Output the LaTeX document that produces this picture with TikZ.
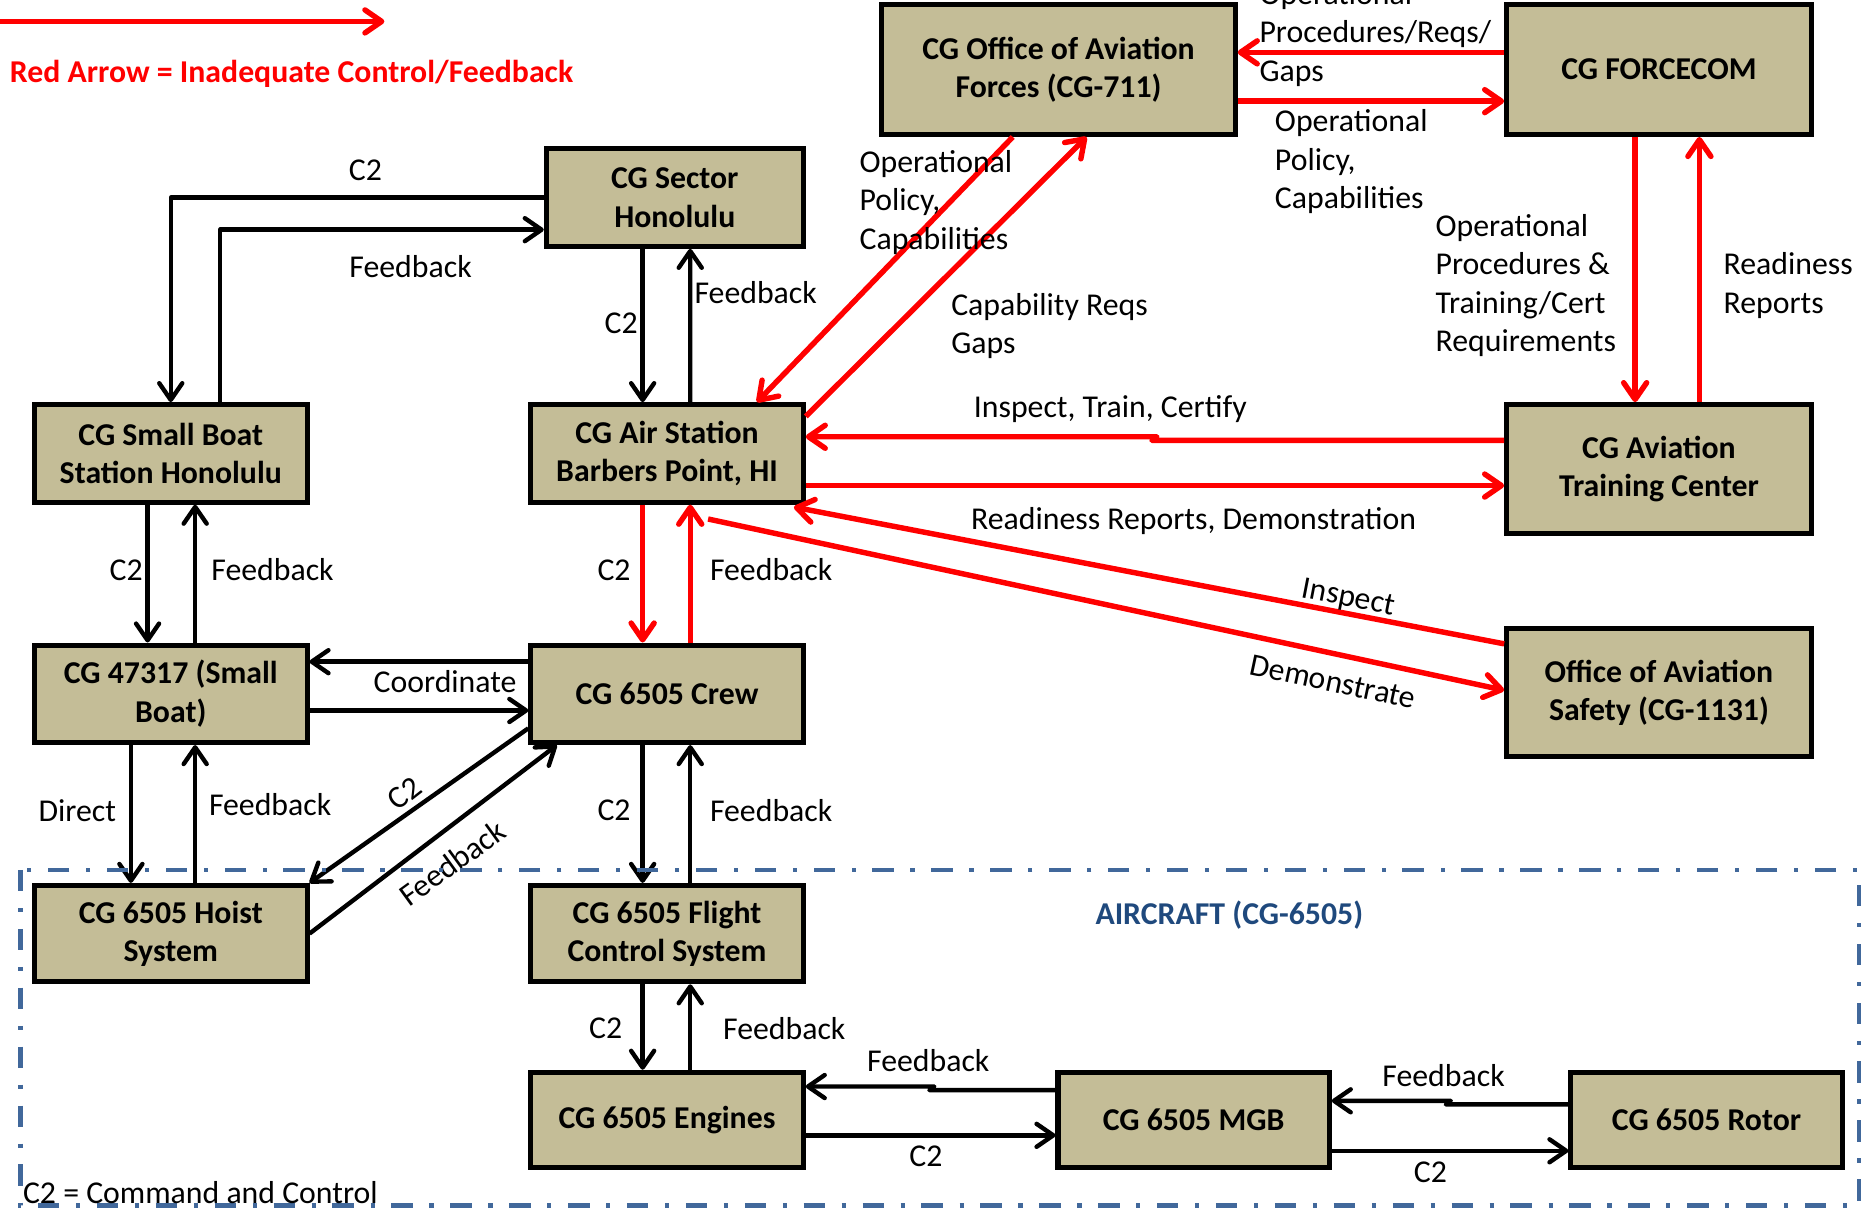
\documentclass[tikz,border=0pt]{standalone}
\usepackage{fontspec}
\setmainfont{Carlito}
\usetikzlibrary{arrows.meta, calc}
\definecolor{box-tan}{HTML}{C4BD97}
\definecolor{frame-blue}{HTML}{41689B}
\definecolor{title-blue}{HTML}{1F497D}
\definecolor{warn-red}{HTML}{FF0000}
\newcommand{\drawBox}[6]{
	\node[box, minimum width=#4cm, minimum height=#5cm] (#1) at (#2,#3) {#6};
}

\begin{document}
\begin{tikzpicture}[x=0.02cm, y=-0.02cm,
	box/.style={draw=black, line width=2.4pt, fill=box-tan, align=center, inner sep=0pt, font=\fontsize{15.2}{18.4}\selectfont\bfseries},
	lbl/.style={align=left, inner sep=0pt, font=\fontsize{15.2}{18.4}\selectfont},
	lblb/.style={lbl, font=\fontsize{15.2}{18.4}\selectfont\bfseries},
	blk/.style={draw=black, line width=2.1pt, line join=round, -{Straight Barb[length=8pt,width=11pt,round]}},
	bad/.style={draw=warn-red, line width=2.6pt, line join=round, -{Straight Barb[length=8pt,width=11pt,round]}}]

	\useasboundingbox (0,0) rectangle (1568,1015);

	% boxes: name, x, y, width, height, text
	\drawBox{off711}  { 889.5}{ 58.5}{5.94}{2.18}{CG Office of Aviation\\Forces (CG-711)}
	\drawBox{forcecom}{1394  }{ 58.5}{5.12}{2.18}{CG FORCECOM}
	\drawBox{sector}  { 567  }{166  }{4.32}{1.64}{CG Sector\\Honolulu}
	\drawBox{smallboat}{143.5}{381  }{4.58}{1.64}{CG Small Boat\\Station Honolulu}
	\drawBox{airsta}  { 560.5}{381  }{4.58}{1.64}{CG Air Station\\Barbers Point, HI}
	\drawBox{atc}     {1394  }{394  }{5.12}{2.16}{CG Aviation\\Training Center}
	\drawBox{boat47}  { 143.5}{583  }{4.58}{1.64}{CG 47317 (Small\\Boat)}
	\drawBox{crew}    { 560.5}{583  }{4.58}{1.64}{CG 6505 Crew}
	\drawBox{oas}     {1394  }{582  }{5.12}{2.16}{Office of Aviation\\Safety (CG-1131)}
	\drawBox{hoist}   { 143.5}{784.5}{4.58}{1.62}{CG 6505 Hoist\\System}
	\drawBox{fcs}     { 560.5}{784.5}{4.58}{1.62}{CG 6505 Flight\\Control System}
	\drawBox{engines} { 560.5}{941  }{4.58}{1.60}{CG 6505 Engines}
	\drawBox{mgb}     {1003  }{941  }{4.56}{1.60}{CG 6505 MGB}
	\drawBox{rotor}   {1434  }{941  }{4.56}{1.60}{CG 6505 Rotor}

	% black = adequate
	\draw[blk] (sector.west) -| (smallboat.north);
	\draw[blk] ($(smallboat.north)+(41.5,0)$) |- ($(sector.west)+(0,27)$);
	\draw[blk] ($(sector.south)+(-27,0)$) -- ($(airsta.north)+(-20.5,0)$);
	\draw[blk] ($(airsta.north)+(19.5,0)$) -- ($(sector.south)+(13,0)$);
	\draw[blk] ($(smallboat.south)+(-19.5,0)$) -- ($(boat47.north)+(-19.5,0)$);
	\draw[blk] ($(boat47.north)+(20.5,0)$) -- ($(smallboat.south)+(20.5,0)$);
	\draw[blk] ($(crew.west)+(0,-27)$) -- ($(boat47.east)+(0,-27)$);
	\draw[blk] ($(boat47.east)+(0,14)$) -- ($(crew.west)+(0,14)$);
	\draw[blk] ($(boat47.south)+(-33.5,0)$) -- ($(hoist.north)+(-33.5,0)$);
	\draw[blk] ($(hoist.north)+(20.5,0)$) -- ($(boat47.south)+(20.5,0)$);
	\draw[blk] ($(crew.west)+(0,29)$) -- (hoist.north east);
	\draw[blk] (hoist.east) -- ($(crew.south west)+(24,0)$);
	\draw[blk] ($(crew.south)+(-20.5,0)$) -- ($(fcs.north)+(-20.5,0)$);
	\draw[blk] ($(fcs.north)+(19.5,0)$) -- ($(crew.south)+(19.5,0)$);
	\draw[blk] ($(fcs.south)+(-20.5,0)$) -- ($(engines.north)+(-20.5,0)$);
	\draw[blk] ($(engines.north)+(19.5,0)$) -- ($(fcs.south)+(19.5,0)$);
	\draw[blk] ($(mgb.west)+(0,-25)$) -- ($(mgb.west)+(-106,-25)$) -- ($(engines.east)+(108,-28)$) -- ($(engines.east)+(0,-28)$);
	\draw[blk] ($(engines.east)+(0,13)$) -- ($(mgb.west)+(0,13)$);
	\draw[blk] ($(rotor.west)+(0,-13)$) -- ($(rotor.west)+(-103,-13)$) -- ($(mgb.east)+(100,-16)$) -- ($(mgb.east)+(0,-16)$);
	\draw[blk] ($(mgb.east)+(0,26)$) -- ($(rotor.west)+(0,26)$);

	% red = inadequate
	\draw[bad] ($(off711.south)+(-38.5,0)$) -- ($(airsta.north)+(75.5,0)$);
	\draw[bad] ($(airsta.north east)+(0,12)$) -- ($(off711.south)+(23.5,0)$);
	\draw[bad] ($(forcecom.west)+(0,-14.5)$) -- ($(off711.east)+(0,-14.5)$);
	\draw[bad] ($(off711.east)+(0,26.5)$) -- ($(forcecom.west)+(0,26.5)$);
	\draw[bad] ($(forcecom.south)+(-20,0)$) -- ($(atc.north)+(-20,0)$);
	\draw[bad] ($(atc.north)+(34,0)$) -- ($(forcecom.south)+(34,0)$);
	\draw[bad] ($(atc.west)+(0,-24)$) -- ($(atc.west)+(-296,-24)$) -- ($(airsta.east)+(295,-14)$) -- ($(airsta.east)+(0,-14)$);
	\draw[bad] ($(airsta.east)+(0,27)$) -- ($(atc.west)+(0,14)$);
	\draw[bad] ($(airsta.south)+(-20.5,0)$) -- ($(crew.north)+(-20.5,0)$);
	\draw[bad] ($(crew.north)+(19.5,0)$) -- ($(airsta.south)+(19.5,0)$);
	\draw[bad] ($(oas.west)+(0,-41)$) -- ($(airsta.south east)+(-10,2)$);
	\draw[bad] ($(airsta.south)+(34.5,12)$) -- ($(oas.west)+(0,-2)$);

	% labels
	\node[lbl] (tC2sb)  at (307,143) {C2};
	\node[lbl] (tFbsb)  at (345,224) {Feedback};
	\node[lbl] (tC2as)  at (522,272) {C2};
	\node[lbl] (tFbas)  at (635,246) {Feedback};
	\node[lbl] (tC2bt)  at (106,479) {C2};
	\node[lbl] (tFbbt)  at (229,479) {Feedback};
	\node[lbl] (tC2cr)  at (516,479) {C2};
	\node[lbl] (tFbcr)  at (648,479) {Feedback};
	\node[lbl] (tCoord) at (374,573) {Coordinate};
	\node[lbl] (tDirect) at (65,681) {Direct};
	\node[lbl] (tFbho)  at (227,676) {Feedback};
	\node[lbl, rotate=38] (tC2ho) at (340,667) {C2};
	\node[lbl, rotate=36] (tFbcw) at (380,725) {Feedback};
	\node[lbl] (tC2fc)  at (516,681) {C2};
	\node[lbl] (tFbfc)  at (648,681) {Feedback};
	\node[lbl] (tC2en)  at (509,864) {C2};
	\node[lbl] (tFben)  at (659,864) {Feedback};
	\node[lbl] (tFbmg)  at (780,891) {Feedback};
	\node[lbl] (tC2mg)  at (778,972) {C2};
	\node[lbl] (tFbro)  at (1213,904) {Feedback};
	\node[lbl] (tC2ro)  at (1202,985) {C2};

	\node[lbl, anchor=west] (tPol1)  at (722,170)  {Operational\\Policy,\\Capabilities};
	\node[lbl, anchor=west] (tReqs)  at (799,274)  {Capability Reqs\\Gaps};
	\node[lbl, anchor=west] (tProc)  at (1058,29)  {Operational\\Procedures/Reqs/\\Gaps};
	\node[lbl, anchor=west] (tPol2)  at (1071,136) {Operational\\Policy,\\Capabilities};
	\node[lbl, anchor=west] (tTrain) at (1206,240) {Operational\\Procedures \&\\Training/Cert\\Requirements};
	\node[lbl, anchor=west] (tReady) at (1448,240) {Readiness\\Reports};
	\node[lbl] (tCert)  at (933,344)  {Inspect, Train, Certify};
	\node[lbl] (tDemo)  at (1003,438) {Readiness Reports, Demonstration};
	\node[lbl, rotate=-11] (tInsp)  at (1133,503) {Inspect};
	\node[lbl, rotate=-12] (tDemo2) at (1120,573) {Demonstrate};

	% aircraft boundary
	\draw[frame-blue, line width=2.2pt, dash pattern=on 0.36cm off 0.28cm on 0.07cm off 0.28cm] (17,731) rectangle (1562,1013);
	\node[lblb, text=title-blue] (acTitle) at (1033,769) {AIRCRAFT (CG-6505)};
	\node[lbl, anchor=west] (c2Note) at (19,1002) {C2 = Command and Control};

	% legend
	\coordinate (legStart) at (0,18);
	\coordinate (legEnd) at (323,18);
	\draw[bad] (legStart) -- (legEnd);
	\node[lblb, anchor=west, text=warn-red] (legText) at (8,62) {Red Arrow = Inadequate Control/Feedback};

\end{tikzpicture}
\end{document}
